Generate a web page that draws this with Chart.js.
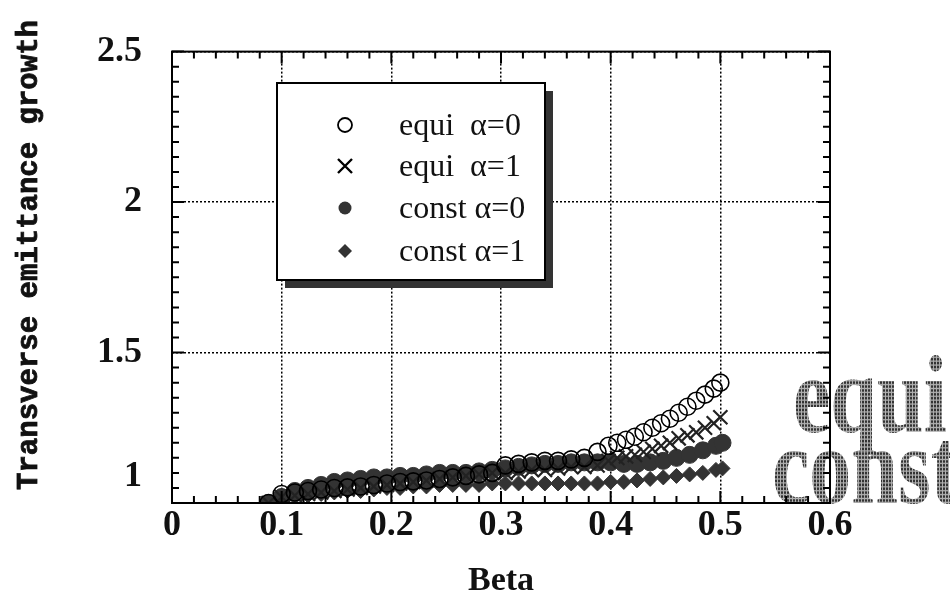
<!DOCTYPE html>
<html>
<head>
<meta charset="utf-8">
<script src="https://cdn.jsdelivr.net/npm/chart.js@4.4.0/dist/chart.umd.min.js"></script>
<style>
  html, body { margin: 0; padding: 0; background: #fff; }
  #wrap { width: 950px; height: 611px; }
</style>
</head>
<body>
<div id="wrap"><canvas id="c" width="950" height="611"></canvas></div>
<script>
// series names
var labels = ['equi  \u03b1=0', 'equi  \u03b1=1', 'const \u03b1=0', 'const \u03b1=1'];
var yTitle = 'Transverse emittance growth';
var xTitle = 'Beta';

// beta values (x)
var betaA = [0.088, 0.1, 0.112, 0.124, 0.136, 0.148, 0.16, 0.172, 0.184, 0.196, 0.208, 0.22, 0.232, 0.244, 0.256, 0.268, 0.28, 0.292, 0.304, 0.316, 0.328, 0.34, 0.352, 0.364, 0.376, 0.388, 0.398, 0.406, 0.414, 0.422, 0.43, 0.438, 0.446, 0.454, 0.462, 0.47, 0.478, 0.486, 0.494, 0.5];
var betaB = [0.088, 0.1, 0.112, 0.124, 0.136, 0.148, 0.16, 0.172, 0.184, 0.196, 0.208, 0.22, 0.232, 0.244, 0.256, 0.268, 0.28, 0.292, 0.304, 0.316, 0.328, 0.34, 0.352, 0.364, 0.376, 0.388, 0.4, 0.412, 0.424, 0.436, 0.448, 0.46, 0.472, 0.484, 0.496, 0.502];

// emittance growth
var equi0  = [1.0, 1.03, 1.035, 1.04, 1.045, 1.05, 1.052, 1.055, 1.06, 1.065, 1.07, 1.072, 1.075, 1.08, 1.085, 1.09, 1.095, 1.1, 1.125, 1.13, 1.135, 1.14, 1.14, 1.145, 1.15, 1.17, 1.19, 1.2, 1.21, 1.22, 1.235, 1.25, 1.265, 1.28, 1.3, 1.32, 1.34, 1.36, 1.38, 1.4];
var equi1  = [1.0, 1.02, 1.025, 1.03, 1.035, 1.04, 1.045, 1.05, 1.055, 1.06, 1.065, 1.07, 1.075, 1.08, 1.085, 1.09, 1.095, 1.1, 1.1, 1.105, 1.11, 1.11, 1.115, 1.12, 1.12, 1.125, 1.14, 1.15, 1.155, 1.16, 1.17, 1.18, 1.19, 1.2, 1.215, 1.225, 1.235, 1.25, 1.265, 1.285];
var const0 = [1.0, 1.02, 1.04, 1.05, 1.06, 1.07, 1.075, 1.08, 1.085, 1.085, 1.09, 1.09, 1.095, 1.1, 1.1, 1.1, 1.105, 1.11, 1.115, 1.12, 1.125, 1.13, 1.13, 1.135, 1.135, 1.135, 1.135, 1.13, 1.13, 1.135, 1.14, 1.15, 1.16, 1.175, 1.19, 1.2];
var const1 = [1.0, 1.01, 1.02, 1.025, 1.03, 1.035, 1.04, 1.04, 1.045, 1.05, 1.05, 1.055, 1.055, 1.06, 1.06, 1.06, 1.06, 1.065, 1.065, 1.065, 1.065, 1.065, 1.065, 1.065, 1.065, 1.065, 1.07, 1.07, 1.075, 1.08, 1.085, 1.09, 1.095, 1.1, 1.11, 1.115];

function pts(xs, ys) {
    var out = [];
    for (var i = 0; i < ys.length; i++) out.push({x: xs[i], y: ys[i]});
    return out;
}

var dark = '#333';
var serif = '"Liberation Serif", "Times New Roman", serif';
var mono = '"Liberation Mono", "DejaVu Sans Mono", monospace';

// halftone fill for the big words on the right
function halftone(ctx) {
    var p = document.createElement('canvas');
    p.width = 3; p.height = 3;
    var pc = p.getContext('2d');
    pc.fillStyle = '#b0b0b0';
    pc.fillRect(0, 0, 3, 3);
    pc.fillStyle = '#333';
    pc.fillRect(0, 0, 2, 2);
    return ctx.createPattern(p, 'repeat');
}

var bigWords = {
    id: 'bigWords',
    beforeDraw: function(chart) {
        var ctx = chart.ctx;
        ctx.save();
        ctx.fillStyle = halftone(ctx);
        ctx.font = 'bold 84px ' + serif;
        ctx.textBaseline = 'alphabetic';
        ctx.save();
        ctx.translate(793, 432);
        ctx.scale(1, 1.3);
        ctx.fillText('equi', 0, 0);
        ctx.restore();
        ctx.save();
        ctx.translate(772, 503);
        ctx.scale(1, 1.3);
        ctx.fillText('const', 0, 0);
        ctx.restore();
        ctx.restore();
    }
};

// frame, inward ticks, y title and the lifted "1" label
var frame = {
    id: 'frame',
    afterDatasetsDraw: function(chart) {
        var ctx = chart.ctx, a = chart.chartArea;
        var xs = chart.scales.x, ys = chart.scales.y;
        ctx.save();
        ctx.strokeStyle = '#000';
        ctx.lineWidth = 2;
        ctx.beginPath();
        for (var i = 0; i <= 30; i++) {
            var v = i * 0.02;
            var px = xs.getPixelForValue(v);
            var len = (i % 5 === 0) ? 12 : 7;
            ctx.moveTo(px, a.bottom); ctx.lineTo(px, a.bottom - len);
            ctx.moveTo(px, a.top); ctx.lineTo(px, a.top + len);
        }
        for (var j = 0; j <= 30; j++) {
            var w = 1 + j * 0.05;
            var py = ys.getPixelForValue(w);
            var l2 = (j % 10 === 0) ? 12 : 7;
            ctx.moveTo(a.left, py); ctx.lineTo(a.left + l2, py);
            ctx.moveTo(a.right, py); ctx.lineTo(a.right - l2, py);
        }
        ctx.stroke();
        ctx.strokeRect(a.left, a.top, a.right - a.left, a.bottom - a.top);

        ctx.fillStyle = '#111';
        ctx.font = 'bold 36px ' + serif;
        ctx.textAlign = 'right';
        ctx.textBaseline = 'middle';
        ctx.fillText('1', a.left - 30, ys.getPixelForValue(1) - 26);

        ctx.translate(30, 255);
        ctx.rotate(-Math.PI / 2);
        ctx.textAlign = 'center';
        ctx.font = 'bold 29px ' + mono;
        ctx.lineWidth = 0.8;
        ctx.strokeStyle = '#111';
        ctx.fillText(yTitle, 0, 0);
        ctx.strokeText(yTitle, 0, 0);
        ctx.restore();
    }
};

function drawSymbol(ctx, style, x, y) {
    ctx.beginPath();
    if (style === 'open') {
        ctx.lineWidth = 1.8;
        ctx.arc(x, y, 7, 0, Math.PI * 2);
        ctx.stroke();
    } else if (style === 'cross') {
        ctx.lineWidth = 2.4;
        ctx.moveTo(x - 7, y - 7); ctx.lineTo(x + 7, y + 7);
        ctx.moveTo(x + 7, y - 7); ctx.lineTo(x - 7, y + 7);
        ctx.stroke();
    } else if (style === 'dot') {
        ctx.fillStyle = dark;
        ctx.arc(x, y, 6.5, 0, Math.PI * 2);
        ctx.fill();
    } else {
        ctx.fillStyle = dark;
        ctx.moveTo(x, y - 7); ctx.lineTo(x + 7, y); ctx.lineTo(x, y + 7); ctx.lineTo(x - 7, y);
        ctx.closePath();
        ctx.fill();
    }
}

// boxed legend with drop shadow
var boxLegend = {
    id: 'boxLegend',
    afterDraw: function(chart) {
        var ctx = chart.ctx;
        var bx = 277, by = 83, bw = 268, bh = 197;
        var styles = ['open', 'cross', 'dot', 'diamond'];
        var rows = [125, 166, 208, 251];
        ctx.save();
        ctx.fillStyle = '#333';
        ctx.fillRect(bx + 8, by + 8, bw, bh);
        ctx.fillStyle = '#fff';
        ctx.fillRect(bx, by, bw, bh);
        ctx.strokeStyle = '#000';
        ctx.lineWidth = 2;
        ctx.strokeRect(bx, by, bw, bh);
        ctx.font = '32px ' + serif;
        ctx.textBaseline = 'middle';
        for (var i = 0; i < labels.length; i++) {
            ctx.strokeStyle = '#000';
            drawSymbol(ctx, styles[i], 345, rows[i]);
            ctx.fillStyle = '#111';
            ctx.fillText(labels[i], 399, rows[i] + 2);
        }
        ctx.restore();
    }
};

function fmt(v) {
    return String(Math.round(v * 10) / 10);
}

var ctx = document.getElementById('c').getContext('2d');
new Chart(ctx, {
    type: 'scatter',
    data: {
        datasets: [
            {
                label: labels[0], data: pts(betaA, equi0),
                pointStyle: 'circle', pointRadius: 8.5, borderWidth: 1.6,
                borderColor: '#000', backgroundColor: 'rgba(0,0,0,0)', order: 1
            },
            {
                label: labels[1], data: pts(betaA, equi1),
                pointStyle: 'crossRot', pointRadius: 10, borderWidth: 2.2,
                borderColor: '#222', backgroundColor: '#222', order: 2
            },
            {
                label: labels[2], data: pts(betaB, const0),
                pointStyle: 'circle', pointRadius: 8.5, borderWidth: 1,
                borderColor: dark, backgroundColor: dark, order: 3
            },
            {
                label: labels[3], data: pts(betaB, const1),
                pointStyle: 'rectRot', pointRadius: 7.5, borderWidth: 1,
                borderColor: dark, backgroundColor: dark, order: 4
            }
        ]
    },
    options: {
        responsive: false,
        animation: false,
        events: [],
        layout: { padding: { left: 0, right: 120, top: 41, bottom: 0 } },
        plugins: {
            legend: { display: false },
            tooltip: { enabled: false }
        },
        scales: {
            x: {
                type: 'linear', min: 0, max: 0.6,
                afterFit: function(s) { s.height = 108; },
                grid: { color: '#000', lineWidth: 1.5, drawTicks: false },
                border: { display: false, dash: [2, 2] },
                ticks: {
                    stepSize: 0.1, padding: 1, color: '#111',
                    font: { family: serif, size: 36, weight: 'bold' },
                    callback: fmt
                },
                title: {
                    display: true, text: xTitle, color: '#111',
                    font: { family: serif, size: 34, weight: 'bold' },
                    padding: { top: 0, bottom: 9 }
                }
            },
            y: {
                type: 'linear', min: 1, max: 2.5,
                afterFit: function(s) { s.width = 172; },
                grid: { color: '#000', lineWidth: 1.5, drawTicks: false },
                border: { display: false, dash: [2, 2] },
                ticks: {
                    stepSize: 0.5, padding: 30, color: '#111',
                    font: { family: serif, size: 36, weight: 'bold' },
                    callback: function(v) { return v === 1 ? '' : fmt(v); }
                }
            }
        }
    },
    plugins: [bigWords, frame, boxLegend]
});
</script>
</body>
</html>
